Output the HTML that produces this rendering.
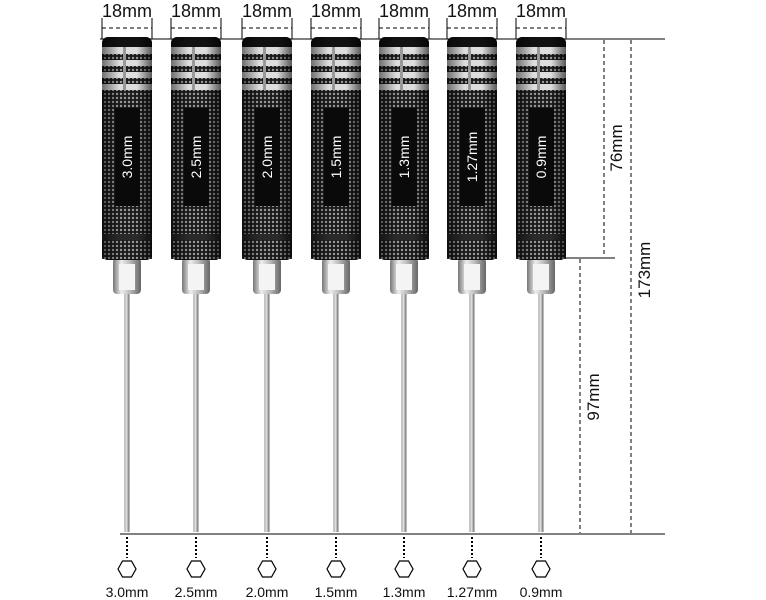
<!DOCTYPE html>
<html><head><style>html,body{margin:0;padding:0;background:#fff;}svg{display:block}</style></head>
<body>
<svg width="766" height="600" viewBox="0 0 766 600" xmlns="http://www.w3.org/2000/svg" font-family="Liberation Sans, Arial, sans-serif">
<defs>
<pattern id="kn" width="4" height="4" patternUnits="userSpaceOnUse">
<rect width="4" height="4" fill="#1a1a1a"/><circle cx="2" cy="2" r="1.2" fill="#9a9a9a"/>
</pattern>
<linearGradient id="met" x1="0" x2="1">
<stop offset="0" stop-color="#777"/><stop offset="0.3" stop-color="#eee"/><stop offset="0.6" stop-color="#bbb"/><stop offset="1" stop-color="#666"/>
</linearGradient>
<linearGradient id="shade" x1="0" x2="1">
<stop offset="0" stop-color="#000" stop-opacity="0.5"/><stop offset="0.35" stop-color="#000" stop-opacity="0"/><stop offset="0.7" stop-color="#000" stop-opacity="0"/><stop offset="1" stop-color="#000" stop-opacity="0.6"/>
</linearGradient>
<g id="sd">
<rect x="-2.5" y="294" width="5" height="238" fill="url(#met)"/>
<rect x="-14" y="258" width="28" height="36" rx="4" fill="url(#met)"/>
<rect x="-8" y="264" width="16" height="26" fill="#f4f4f4"/>
<rect x="-25" y="37" width="50" height="223" rx="6" fill="#111"/>
<rect x="-25" y="47" width="50" height="44" fill="#ddd"/>
<rect x="-25" y="54" width="50" height="6" fill="url(#kn)"/>
<rect x="-25" y="66" width="50" height="6" fill="url(#kn)"/>
<rect x="-25" y="78" width="50" height="6" fill="url(#kn)"/>
<rect x="-4" y="47" width="3" height="44" fill="#999"/>
<rect x="-25" y="90" width="50" height="144" fill="url(#kn)"/>
<rect x="-25" y="234" width="50" height="6" fill="#2a2a2a"/>
<rect x="-25" y="240" width="50" height="19" fill="url(#kn)"/>
<rect x="-25" y="37" width="50" height="223" rx="6" fill="url(#shade)"/>
<rect x="-12" y="108" width="25" height="98" fill="#0a0a0a"/>
</g>
<g id="tk">
<line x1="-25" y1="18" x2="-25" y2="39"/><line x1="25" y1="18" x2="25" y2="39"/>
<line x1="-25" y1="28" x2="25" y2="28" stroke-dasharray="4,3"/>
</g>
<g id="hx">
<line x1="0" y1="537" x2="0" y2="558" stroke-dasharray="2,2" stroke-width="2"/>
<polygon points="-9,569 -4.5,561 4.5,561 9,569 4.5,577 -4.5,577" stroke-width="1.2"/>
</g>
</defs>

<g stroke="#000" stroke-width="1" fill="none">
<line x1="100" y1="39" x2="665" y2="39"/>
<line x1="560" y1="258" x2="615" y2="258"/>
<line x1="120" y1="534" x2="665" y2="534"/>
<g stroke-dasharray="4,3">
<line x1="604" y1="40" x2="604" y2="257"/>
<line x1="631" y1="40" x2="631" y2="533"/>
<line x1="580" y1="259" x2="580" y2="533"/>
</g>
</g>

<g font-size="18" fill="#111" text-anchor="middle">
<g transform="translate(127,0)"><use href="#sd"/><text x="0" y="17">18mm</text><text transform="translate(5,157) rotate(-90)" fill="#fff" font-size="14">3.0mm</text></g>
<g transform="translate(196,0)"><use href="#sd"/><text x="0" y="17">18mm</text><text transform="translate(5,157) rotate(-90)" fill="#fff" font-size="14">2.5mm</text></g>
<g transform="translate(267,0)"><use href="#sd"/><text x="0" y="17">18mm</text><text transform="translate(5,157) rotate(-90)" fill="#fff" font-size="14">2.0mm</text></g>
<g transform="translate(336,0)"><use href="#sd"/><text x="0" y="17">18mm</text><text transform="translate(5,157) rotate(-90)" fill="#fff" font-size="14">1.5mm</text></g>
<g transform="translate(404,0)"><use href="#sd"/><text x="0" y="17">18mm</text><text transform="translate(5,157) rotate(-90)" fill="#fff" font-size="14">1.3mm</text></g>
<g transform="translate(472,0)"><use href="#sd"/><text x="0" y="17">18mm</text><text transform="translate(5,157) rotate(-90)" fill="#fff" font-size="14">1.27mm</text></g>
<g transform="translate(541,0)"><use href="#sd"/><text x="0" y="17">18mm</text><text transform="translate(5,157) rotate(-90)" fill="#fff" font-size="14">0.9mm</text></g>
</g>

<g stroke="#000" stroke-width="1" fill="none">
<use href="#tk" x="127"/><use href="#tk" x="196"/><use href="#tk" x="267"/><use href="#tk" x="336"/><use href="#tk" x="404"/><use href="#tk" x="472"/><use href="#tk" x="541"/>
</g>

<g stroke="#000" fill="none">
<use href="#hx" x="127"/><use href="#hx" x="196"/><use href="#hx" x="267"/><use href="#hx" x="336"/><use href="#hx" x="404"/><use href="#hx" x="472"/><use href="#hx" x="541"/>
</g>
<g font-size="14" fill="#111" text-anchor="middle">
<text x="127" y="597">3.0mm</text><text x="196" y="597">2.5mm</text><text x="267" y="597">2.0mm</text><text x="336" y="597">1.5mm</text><text x="404" y="597">1.3mm</text><text x="472" y="597">1.27mm</text><text x="541" y="597">0.9mm</text>
</g>

<g font-size="17" fill="#111" text-anchor="middle">
<text transform="translate(622,148) rotate(-90)">76mm</text>
<text transform="translate(650,270) rotate(-90)">173mm</text>
<text transform="translate(599,397) rotate(-90)">97mm</text>
</g>
</svg>
</body></html>
